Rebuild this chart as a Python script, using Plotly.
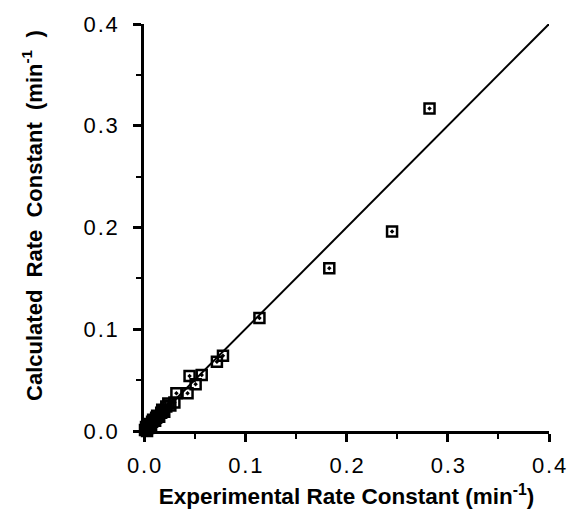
import plotly.graph_objects as go

# Experimental vs calculated rate constants (min^-1)
experimental = [0.282, 0.245, 0.183, 0.114, 0.078, 0.072, 0.057, 0.045, 0.051,
                0.043, 0.032, 0.030, 0.026, 0.022, 0.020, 0.017, 0.015, 0.013,
                0.011, 0.009, 0.007, 0.005, 0.004, 0.002, 0.001, 0.003, 0.008,
                0.012, 0.018, 0.024]
calculated = [0.317, 0.196, 0.160, 0.111, 0.074, 0.068, 0.055, 0.054, 0.046,
              0.037, 0.037, 0.028, 0.025, 0.024, 0.019, 0.018, 0.014, 0.015,
              0.010, 0.011, 0.006, 0.007, 0.003, 0.004, 0.001, 0.000, 0.009,
              0.013, 0.021, 0.027]
parity_line = [0.0, 0.4]
tick_vals = [0.0, 0.1, 0.2, 0.3, 0.4]
tick_text = ["0\u200a.\u200a0", "0\u200a.\u200a1", "0\u200a.\u200a2",
             "0\u200a.\u200a3", "0\u200a.\u200a4"]

FONT = "Liberation Sans, Arial, Helvetica, sans-serif"
SP = "\u00a0\u00a0"

fig = go.Figure()
fig.add_trace(go.Scatter(
    x=parity_line, y=parity_line, mode="lines",
    line=dict(color="black", width=2), showlegend=False, hoverinfo="skip"))
fig.add_trace(go.Scatter(
    x=experimental, y=calculated, mode="markers",
    marker=dict(symbol="square-open-dot", size=10, color="black",
                line=dict(color="black", width=2.5)),
    cliponaxis=False, showlegend=False))

axis_common = dict(
    range=[0, 0.4], showgrid=False, zeroline=False,
    showline=True, linecolor="black", linewidth=2.5,
    ticks="outside", ticklen=8, tickwidth=2.5, tickcolor="black",
    tickvals=tick_vals, ticktext=tick_text,
    tickfont=dict(family=FONT, size=22, color="black"),
    minor=dict(ticks="outside", ticklen=5, tickwidth=2, tickcolor="black",
               dtick=0.05, tick0=0),
)

fig.update_xaxes(**axis_common, ticklabelstandoff=5,
                 title=dict(text="<b>Experimental Rate Constant (min<sup>-1</sup>)</b>",
                            font=dict(family=FONT, size=22.5, color="black"),
                            standoff=12))
fig.update_yaxes(**axis_common, ticklabelstandoff=11)

fig.add_annotation(
    xref="paper", yref="paper", x=-0.275, y=0.53,
    xanchor="center", yanchor="middle", textangle=-90, showarrow=False,
    text="<b>Calculated" + SP + "Rate" + SP + "Constant" + SP
         + "(min<sup>-1</sup>" + SP + ")</b>",
    font=dict(family=FONT, size=22, color="black"))

fig.update_layout(
    width=578, height=521,
    margin=dict(l=144, r=21, t=20, b=90),
    plot_bgcolor="white", paper_bgcolor="white",
)

fig.write_html("out.html")
